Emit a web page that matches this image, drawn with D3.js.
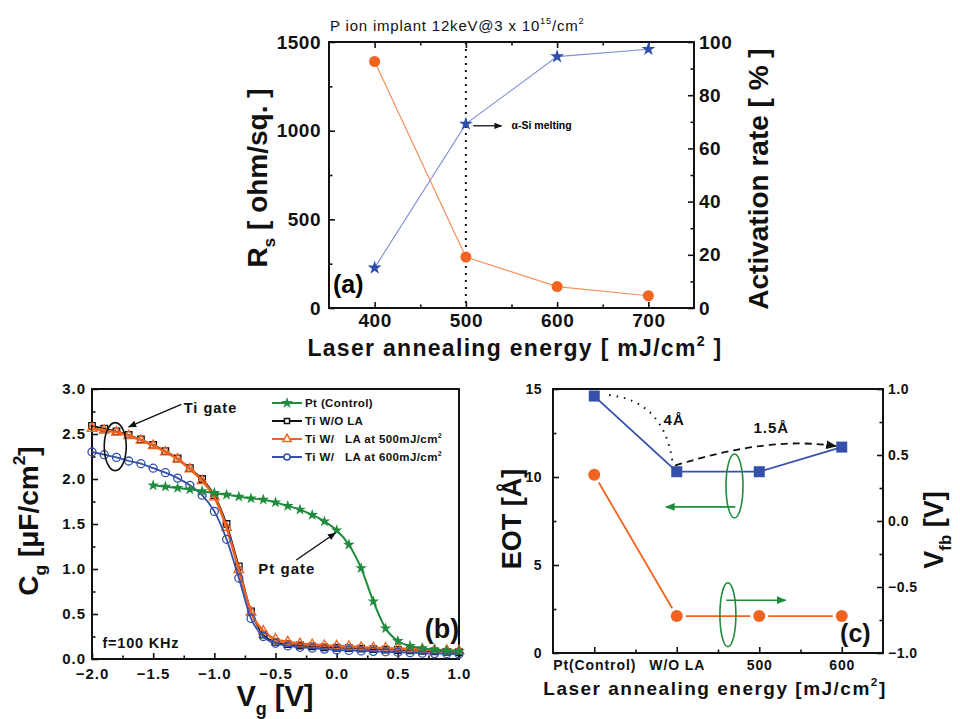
<!DOCTYPE html>
<meta charset="utf-8">
<script src="https://d3js.org/d3.v7.min.js"></script>
<style>
  body { margin: 0; background: #fff; }
  text { font-family: "Liberation Sans", Arial, sans-serif; white-space: pre; }
</style>
<svg id="fig" width="960" height="719"></svg>
<script>

// ---- panel (a) data
var energyA = [400, 500, 600, 700];
var rsA = [1390, 287, 121, 69];
var actA = [15.1, 69.2, 94.5, 97.3];

// ---- panel (b) data : C-V curves
var vgTi = [-2.0, -1.9, -1.8, -1.7, -1.6, -1.5, -1.4, -1.3, -1.2, -1.1, -1.0, -0.9, -0.8, -0.7, -0.6, -0.5,
            -0.4, -0.3, -0.2, -0.1, 0.0, 0.1, 0.2, 0.3, 0.4, 0.5, 0.6, 0.7, 0.8, 0.9, 1.0];
var cTiNoLA = [2.59, 2.56, 2.53, 2.49, 2.44, 2.38, 2.31, 2.23, 2.12, 2.0, 1.82, 1.50, 1.03, 0.53, 0.27, 0.19,
               0.165, 0.15, 0.14, 0.13, 0.125, 0.12, 0.115, 0.11, 0.105, 0.10, 0.095, 0.09, 0.085, 0.08, 0.075];
var cTi500 = [2.56, 2.54, 2.52, 2.48, 2.43, 2.37, 2.30, 2.22, 2.11, 1.98, 1.80, 1.46, 0.99, 0.52, 0.31, 0.22,
              0.19, 0.17, 0.16, 0.15, 0.145, 0.14, 0.13, 0.125, 0.12, 0.115, 0.11, 0.105, 0.10, 0.095, 0.09];
var cTi600 = [2.30, 2.27, 2.24, 2.20, 2.17, 2.12, 2.07, 2.01, 1.93, 1.82, 1.64, 1.33, 0.90, 0.45, 0.25, 0.175,
              0.145, 0.13, 0.12, 0.11, 0.10, 0.095, 0.09, 0.085, 0.08, 0.075, 0.07, 0.065, 0.06, 0.058, 0.055];
var vgPt = [-1.5, -1.4, -1.3, -1.2, -1.1, -1.0, -0.9, -0.8, -0.7, -0.6, -0.5, -0.4, -0.3, -0.2, -0.1,
            0.0, 0.1, 0.2, 0.3, 0.4, 0.5, 0.6, 0.7, 0.8, 0.9, 1.0];
var cPt = [1.93, 1.915, 1.9, 1.885, 1.865, 1.845, 1.825, 1.805, 1.785, 1.77, 1.74, 1.70, 1.66, 1.60, 1.53,
           1.43, 1.27, 1.01, 0.64, 0.34, 0.20, 0.145, 0.12, 0.105, 0.095, 0.09];
var legendB = ["Pt (Control)", "Ti W/O LA", "Ti W/   LA at 500mJ/cm", "Ti W/   LA at 600mJ/cm"];

// ---- panel (c) data
var gateC = ["Pt(Control)", "W/O LA", "500", "600"];
var eotC = [14.6, 10.3, 10.3, 11.7];
var vfbC = [0.35, -0.72, -0.72, -0.72];

var svg = d3.select("#fig");
var ORANGE = "#f0641f", BLUE = "#3450aa", GREEN = "#1e8c3c", INK = "#111";

var defs = svg.append("defs");
function arrowDef(id, color) {
  defs.append("marker").attr("id", id)
    .attr("viewBox", "0 0 10 10").attr("refX", 9).attr("refY", 5)
    .attr("markerWidth", 6).attr("markerHeight", 6).attr("orient", "auto")
    .append("path").attr("d", "M0,1L10,5L0,9Z").attr("fill", color);
}
arrowDef("arrK", INK);
arrowDef("arrG", GREEN);

// text with sub/superscript parts ({sub: ".."} / {sup: ".."})
function rich(parent, x, y, size, parts) {
  var t = parent.append("text").attr("x", x).attr("y", y)
    .attr("font-size", size).attr("font-weight", "bold").attr("fill", INK);
  var shift = 0;
  parts.forEach(function(p) {
    var s = 0, fs = size, txt = p;
    if (typeof p !== "string") {
      fs = size * 0.62;
      if (p.sub) { s = size * 0.3; txt = p.sub; }
      else { s = -size * 0.45; txt = p.sup; }
    }
    t.append("tspan").attr("dy", s - shift).attr("font-size", fs).text(txt);
    shift = s;
  });
  return t;
}

function styleAxis(g, size, ls) {
  g.select(".domain").remove();
  g.selectAll("line").attr("stroke", INK).attr("stroke-width", 1.6);
  g.selectAll("text").attr("font-size", size).attr("font-weight", "bold")
    .attr("fill", INK).attr("letter-spacing", ls || 0);
}

function axisPair(g, make, scale, major, minor, fmt, size, pad, ls, tx) {
  var a = g.append("g").attr("transform", tx || null)
    .call(make(scale).tickValues(major).tickSize(-6).tickPadding(pad).tickFormat(fmt));
  styleAxis(a, size, ls);
  var m = g.append("g").attr("transform", tx || null)
    .call(make(scale).tickValues(minor).tickSize(-3.5).tickFormat(""));
  styleAxis(m, size);
  return a;
}

function frame(g, w, h) {
  g.append("rect").attr("width", w).attr("height", h)
    .attr("fill", "none").attr("stroke", INK).attr("stroke-width", 2);
}

// =================== panel (a)
var wa = 365, ha = 266;
var ga = svg.append("g").attr("transform", "translate(329,42)");
var xa = d3.scaleLinear().domain([350, 750]).range([0, wa]);
var ya = d3.scaleLinear().domain([0, 1500]).range([ha, 0]);
var ya2 = d3.scaleLinear().domain([0, 100]).range([ha, 0]);

axisPair(ga, d3.axisBottom, xa, [400, 500, 600, 700], [450, 550, 650], d3.format("d"), 19, 6, 0.5, "translate(0," + ha + ")");
axisPair(ga, d3.axisTop, xa, [400, 500, 600, 700], [450, 550, 650], function() { return ""; }, 19, 6);
axisPair(ga, d3.axisLeft, ya, [0, 500, 1000, 1500], [250, 750, 1250], d3.format("d"), 19, 8, 0.5);
axisPair(ga, d3.axisRight, ya2, [0, 20, 40, 60, 80, 100], [10, 30, 50, 70, 90], d3.format("d"), 19, 5, 0.5, "translate(" + wa + ",0)");
frame(ga, wa, ha);

ga.append("line").attr("x1", xa(500)).attr("x2", xa(500)).attr("y1", 0).attr("y2", ha)
  .attr("stroke", INK).attr("stroke-width", 2).attr("stroke-dasharray", "2,5");

var ptsRs = energyA.map(function(e, i) { return [xa(e), ya(rsA[i])]; });
var ptsAct = energyA.map(function(e, i) { return [xa(e), ya2(actA[i])]; });
ga.append("path").attr("d", d3.line()(ptsRs)).attr("fill", "none").attr("stroke", "#f5915a").attr("stroke-width", 1.2);
ga.append("path").attr("d", d3.line()(ptsAct)).attr("fill", "none").attr("stroke", "#7d8fd6").attr("stroke-width", 1.1);
ga.selectAll(".rs").data(ptsRs).enter().append("circle")
  .attr("cx", function(d) { return d[0]; }).attr("cy", function(d) { return d[1]; })
  .attr("r", 5.5).attr("fill", ORANGE);
ga.selectAll(".act").data(ptsAct).enter().append("path")
  .attr("transform", function(d) { return "translate(" + d + ")"; })
  .attr("d", d3.symbol(d3.symbolStar, 60)()).attr("fill", "#2f4fb0");

ga.append("line").attr("x1", xa(508)).attr("x2", xa(539)).attr("y1", ya2(68.5)).attr("y2", ya2(68.5))
  .attr("stroke", INK).attr("stroke-width", 1.3).attr("marker-end", "url(#arrK)");
ga.append("text").attr("x", xa(550)).attr("y", ya2(67.2)).attr("font-size", 10.5).attr("font-weight", "bold")
  .text("\u03b1-Si melting");
ga.append("text").attr("x", 4).attr("y", ha - 15).attr("font-size", 25).attr("font-weight", "bold").text("(a)");

var ta = rich(svg, 330, 31, 15, ["P ion implant 12keV@3 x 10", {sup: "15"}, "/cm", {sup: "2"}]);
ta.attr("font-weight", "normal").attr("letter-spacing", 0.8);
rich(svg, 0, 0, 28, ["R", {sub: "s"}, " [ ohm/sq. ]"]).attr("text-anchor", "middle")
  .attr("transform", "translate(267,178) rotate(-90)");
rich(svg, 0, 0, 28, ["Activation rate [ % ]"]).attr("text-anchor", "middle")
  .attr("transform", "translate(768,179) rotate(-90)");
rich(svg, 515, 356, 23, ["Laser annealing energy [ mJ/cm", {sup: "2"}, " ]"]).attr("text-anchor", "middle")
  .attr("letter-spacing", 1.3);

// =================== panel (b)
var wb = 367, hb = 270;
var gb = svg.append("g").attr("transform", "translate(92,389)");
var xb = d3.scaleLinear().domain([-2, 1]).range([0, wb]);
var yb = d3.scaleLinear().domain([0, 3]).range([hb, 0]);

axisPair(gb, d3.axisBottom, xb, [-2, -1.5, -1, -0.5, 0, 0.5, 1], [-1.75, -1.25, -0.75, -0.25, 0.25, 0.75], d3.format(".1f"), 15, 9, 1, "translate(0," + hb + ")");
axisPair(gb, d3.axisLeft, yb, [0, 0.5, 1, 1.5, 2, 2.5, 3], [0.25, 0.75, 1.25, 1.75, 2.25, 2.75], d3.format(".1f"), 15, 6, 1);
frame(gb, wb, hb);

var lineB = d3.line().curve(d3.curveMonotoneX);
function series(xs, ys, color, width, sym, size, filled) {
  var pts = xs.map(function(v, i) { return [xb(v), yb(ys[i])]; });
  gb.append("path").attr("d", lineB(pts)).attr("fill", "none").attr("stroke", color).attr("stroke-width", width);
  gb.append("g").selectAll("path").data(pts).enter().append("path")
    .attr("transform", function(d) { return "translate(" + d + ")"; })
    .attr("d", d3.symbol(sym, size)())
    .attr("fill", filled ? color : "none").attr("stroke", color).attr("stroke-width", filled ? 0 : 1.3);
}
series(vgTi, cTiNoLA, INK, 1.6, d3.symbolSquare, 42, false);
series(vgTi, cTi500, ORANGE, 2.6, d3.symbolTriangle, 40, false);
series(vgTi, cTi600, BLUE, 1.8, d3.symbolCircle, 50, false);
series(vgPt, cPt, GREEN, 2, d3.symbolStar, 42, true);

// legend
var legSym = [[d3.symbolStar, GREEN, true, 42], [d3.symbolSquare, INK, false, 26], [d3.symbolTriangle, ORANGE, false, 30], [d3.symbolCircle, BLUE, false, 30]];
legendB.forEach(function(name, i) {
  var y = 14 + i * 18;
  var s = legSym[i];
  gb.append("line").attr("x1", 180).attr("x2", 210).attr("y1", y).attr("y2", y)
    .attr("stroke", s[1]).attr("stroke-width", 2);
  gb.append("path").attr("transform", "translate(195," + y + ")").attr("d", d3.symbol(s[0], s[3])())
    .attr("fill", s[2] ? s[1] : "#fff").attr("stroke", s[1]).attr("stroke-width", s[2] ? 0 : 1.5);
  var parts = i >= 2 ? [name, {sup: "2"}] : [name];
  rich(gb, 213, y + 4, 11.5, parts).attr("letter-spacing", 0.4);
});

// annotations
gb.append("ellipse").attr("cx", xb(-1.81)).attr("cy", yb(2.36)).attr("rx", 11).attr("ry", 24)
  .attr("fill", "none").attr("stroke", INK).attr("stroke-width", 1.6);
gb.append("line").attr("x1", xb(-1.27)).attr("y1", yb(2.83)).attr("x2", xb(-1.7)).attr("y2", yb(2.58))
  .attr("stroke", INK).attr("stroke-width", 1.4).attr("marker-end", "url(#arrK)");
rich(gb, xb(-1.25), yb(2.73), 14.5, ["Ti gate"]).attr("letter-spacing", 1);
gb.append("line").attr("x1", xb(-0.33)).attr("y1", yb(1.1)).attr("x2", xb(-0.01)).attr("y2", yb(1.4))
  .attr("stroke", INK).attr("stroke-width", 1.4).attr("marker-end", "url(#arrK)");
rich(gb, xb(-0.64), yb(0.95), 15, ["Pt gate"]).attr("letter-spacing", 1);
rich(gb, xb(-1.915), yb(0.12), 14.5, ["f=100 KHz"]).attr("letter-spacing", 0.8);
rich(gb, xb(0.72), yb(0.23), 27, ["(b)"]);

rich(svg, 0, 0, 28, ["C", {sub: "g"}, " [\u03bcF/cm", {sup: "2"}, "]"]).attr("text-anchor", "middle")
  .attr("transform", "translate(38,521) rotate(-90)");
rich(svg, 275, 706, 29, ["V", {sub: "g"}, " [V]"]).attr("text-anchor", "middle");

// =================== panel (c)
var wc = 330, hc = 264;
var gc = svg.append("g").attr("transform", "translate(553,389)");
var xc = d3.scaleLinear().domain([-0.5, 3.5]).range([0, wc]);
var yc = d3.scaleLinear().domain([0, 15]).range([hc, 0]);
var yc2 = d3.scaleLinear().domain([-1, 1]).range([hc, 0]);

axisPair(gc, d3.axisBottom, xc, [0, 1, 2, 3], [0.5, 1.5, 2.5], function(i) { return gateC[i]; }, 14, 7, 0.9, "translate(0," + hc + ")");
axisPair(gc, d3.axisLeft, yc, [0, 5, 10, 15], [2.5, 7.5, 12.5], d3.format("d"), 14, 11, 0.5);
axisPair(gc, d3.axisRight, yc2, [-1, -0.5, 0, 0.5, 1], [-0.75, -0.25, 0.25, 0.75], d3.format(".1f"), 14, 5, 0.5, "translate(" + wc + ",0)");
frame(gc, wc, hc);

var ptsEot = gateC.map(function(c, i) { return [xc(i), yc(eotC[i])]; });
var ptsVfb = gateC.map(function(c, i) { return [xc(i), yc2(vfbC[i])]; });
gc.append("path").attr("d", d3.line()(ptsEot)).attr("fill", "none").attr("stroke", BLUE).attr("stroke-width", 1.8);
// orange line segments leave a gap around each circle
ptsVfb.slice(1).forEach(function(p, i) {
  var a = ptsVfb[i], dx = p[0] - a[0], dy = p[1] - a[1], L = Math.hypot(dx, dy), g = 9;
  gc.append("line").attr("x1", a[0] + dx * g / L).attr("y1", a[1] + dy * g / L)
    .attr("x2", p[0] - dx * g / L).attr("y2", p[1] - dy * g / L)
    .attr("stroke", ORANGE).attr("stroke-width", 1.8);
});
gc.selectAll(".eot").data(ptsEot).enter().append("rect")
  .attr("x", function(d) { return d[0] - 5.5; }).attr("y", function(d) { return d[1] - 5.5; })
  .attr("width", 11).attr("height", 11).attr("fill", BLUE);
gc.selectAll(".vfb").data(ptsVfb).enter().append("circle")
  .attr("cx", function(d) { return d[0]; }).attr("cy", function(d) { return d[1]; })
  .attr("r", 6).attr("fill", ORANGE);

// thickness-change annotations
function qpath(p0, c, p1) {
  return "M" + xc(p0[0]) + "," + yc(p0[1]) + "Q" + xc(c[0]) + "," + yc(c[1]) + " " + xc(p1[0]) + "," + yc(p1[1]);
}
gc.append("path").attr("d", qpath([0.18, 14.66], [0.85, 14.3], [0.95, 10.8]))
  .attr("fill", "none").attr("stroke", INK).attr("stroke-width", 2).attr("stroke-dasharray", "1.5,6");
gc.append("path").attr("d", qpath([0.98, 10.65], [2.12, 12.35], [2.93, 11.75]))
  .attr("fill", "none").attr("stroke", INK).attr("stroke-width", 1.8).attr("stroke-dasharray", "7,5")
  .attr("marker-end", "url(#arrK)");
rich(gc, xc(0.84), yc(12.95), 15, ["4\u00c5"]).attr("letter-spacing", 1);
rich(gc, xc(1.93), yc(12.5), 15, ["1.5\u00c5"]).attr("letter-spacing", 1);

gc.append("ellipse").attr("cx", xc(1.7)).attr("cy", yc(9.49)).attr("rx", 8.5).attr("ry", 32)
  .attr("fill", "none").attr("stroke", GREEN).attr("stroke-width", 1.6);
gc.append("line").attr("x1", xc(1.71)).attr("y1", yc(8.3)).attr("x2", xc(0.87)).attr("y2", yc(8.3))
  .attr("stroke", GREEN).attr("stroke-width", 1.6).attr("marker-end", "url(#arrG)");
gc.append("ellipse").attr("cx", xc(1.62)).attr("cy", yc2(-0.71)).attr("rx", 8).attr("ry", 32)
  .attr("fill", "none").attr("stroke", GREEN).attr("stroke-width", 1.6);
gc.append("line").attr("x1", xc(1.6)).attr("y1", yc2(-0.6)).attr("x2", xc(2.32)).attr("y2", yc2(-0.6))
  .attr("stroke", GREEN).attr("stroke-width", 1.6).attr("marker-end", "url(#arrG)");
rich(gc, xc(2.98), yc(0.65), 25, ["(c)"]);

rich(svg, 0, 0, 27, ["EOT [\u00c5]"]).attr("text-anchor", "middle")
  .attr("transform", "translate(521,519) rotate(-90)");
rich(svg, 0, 0, 27, ["V", {sub: "fb"}, " [V]"]).attr("text-anchor", "middle")
  .attr("transform", "translate(943,530) rotate(-90)");
rich(svg, 715, 695, 19, ["Laser annealing energy [mJ/cm", {sup: "2"}, "]"]).attr("text-anchor", "middle")
  .attr("letter-spacing", 1.5);

</script>
